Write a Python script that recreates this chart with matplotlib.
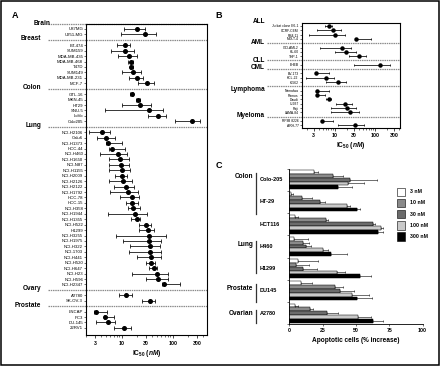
import matplotlib
matplotlib.use('Agg')
import matplotlib.pyplot as plt
from matplotlib.transforms import blended_transform_factory as btf
from matplotlib.patches import Rectangle
from matplotlib.ticker import NullFormatter, LogLocator
import numpy as np

plt.rcParams['font.family'] = ['Liberation Sans', 'DejaVu Sans']
plt.rcParams['mathtext.fontset'] = 'custom'
plt.rcParams['mathtext.rm'] = 'Liberation Sans:bold'
plt.rcParams['mathtext.bf'] = 'Liberation Sans:bold'
plt.rcParams['mathtext.it'] = 'Liberation Sans:bold:italic'

# ---------------- Panel A data (IC50, nM) ----------------
brain_lines = ['U87MG', 'U251-MG']
brain_ic50 = [20, 29]
brain_lo = [11.1, 9.5]
brain_hi = [29, 47.6]

breast_lines = ['BT-474', 'SUM159', 'MDA-MB-435', 'MDA-MB-468', 'T47D', 'SUM149', 'MDA-MB-231', 'MCF-7']
breast_ic50 = [11.4, 11.4, 14.1, 15.5, 15.5, 16.9, 20, 31.8]
breast_lo = [8.2, 6.2, 8.6, 13.1, 14.5, 10, 13.7, 20.9]
breast_hi = [14.7, 17.4, 19.7, 16.9, 16.5, 24.2, 25.8, 43.5]

colon_lines = ['GTL-16', 'MKN-45', 'HT29', 'SNU-5', 'LoVo', 'Colo205']
colon_ic50 = [15.8, 20.6, 23.1, 34.7, 52.2, 239]
colon_lo = [14.8, 18.8, 10.1, 4.8, 32.3, 111]
colon_hi = [16.8, 22.6, 37, 63.6, 74, 348]

lung_lines = ['NCI-H2106', 'Calu6', 'NCI-H1373', 'HCC-44', 'NCI-H460', 'NCI-H1650', 'NCI-N87',
              'NCI-H1155', 'NCI-H2009', 'NCI-H2126', 'NCI-H2122', 'NCI-H1792', 'HCC-78', 'HCC-15',
              'NCI-H358', 'NCI-H1944', 'NCI-H1355', 'NCI-H522', 'H1299', 'NCI-H3255', 'NCI-H1975',
              'NCI-H322', 'NCI-1703', 'NCI-H441', 'NCI-H520', 'NCI-H647', 'NCI-H23', 'NCI-H596',
              'NCI-H2347']
lung_ic50 = [4.05, 4.86, 5.46, 6.6, 8.4, 9.4, 9.7, 10.0, 10.0, 10.8, 12.2, 13.1, 15.8, 16.2,
             16.9, 18.5, 20, 29.5, 32.3, 33.9, 34.7, 36.4, 36.4, 37.6, 37.6, 42.4, 48.5, 52.2, 67.5]
lung_lo = [2.29, 3.23, 5.0, 5.7, 3.8, 5.6, 5.6, 5.6, 7.5, 5.6, 7.0, 5.9, 9.4, 12.2,
           13.1, 5.5, 15, 21.5, 22.2, 7.7, 10.8, 14.7, 14.1, 20, 30.4, 33.9, 15.8, 30, 61]
lung_hi = [6.0, 7.5, 10.1, 11.4, 12.9, 13.9, 14.1, 14.4, 12.9, 15.9, 17.7, 20.6, 21.5, 20.6,
           23, 30.9, 23, 37.6, 43.5, 74, 58, 57, 59.9, 59.9, 46, 49, 82, 81, 141]

ovary_lines = ['A2780', 'SK-OV-3']
ovary_ic50 = [12.3, 35.8]
ovary_lo = [8.8, 24.6]
ovary_hi = [15.8, 46]

prostate_lines = ['LNCAP', 'PC3', 'DU-145', '22RV1']
prostate_ic50 = [3.1, 4.7, 5.3, 11.1]
prostate_lo = [2.9, 4.5, 3.2, 7.0]
prostate_hi = [5.2, 7.1, 7.5, 14.9]

A_groups = [
    ('Brain', brain_lines, brain_ic50, brain_lo, brain_hi),
    ('Breast', breast_lines, breast_ic50, breast_lo, breast_hi),
    ('Colon', colon_lines, colon_ic50, colon_lo, colon_hi),
    ('Lung', lung_lines, lung_ic50, lung_lo, lung_hi),
    ('Ovary', ovary_lines, ovary_ic50, ovary_lo, ovary_hi),
    ('Prostate', prostate_lines, prostate_ic50, prostate_lo, prostate_hi),
]

# ---------------- Panel B data (IC50, nM) ----------------
all_lines = ['Jurkat clone E6-1', 'CCRF-CEM', 'RS4;11', 'MOLT-4']
all_ic50 = [7.2, 9.2, 10.4, 33.9]
all_lo = [5.8, 3.7, 2.25, 31.5]
all_hi = [8.6, 14.6, 18.4, 78.6]

aml_lines = ['OCI-AML2', 'HL-60', 'THP-1']
aml_ic50 = [15.2, 19.1, 40.2]
aml_lo = [4.3, 10.4, 22.3]
aml_hi = [25.9, 33.9, 59]

cll_lines = ['EHEB']
cll_ic50 = [134]
cll_lo = [29.7]
cll_hi = [238]

cml_lines = ['BV-173', 'KCL-22', 'K-562']
cml_ic50 = [3.5, 6.0, 12.3]
cml_lo = [3.3, 1.97, 6.0]
cml_hi = [7.1, 9.6, 18.8]

lymph_lines = ['Namalwa', 'Ramos', 'Daudi', 'U-937', 'Raji', 'LAMA-84']
lymph_ic50 = [3.6, 3.6, 7.1, 18.4, 20.6, 24]
lymph_lo = [3.4, 3.4, 6.2, 10.6, 7.9, 8.1]
lymph_hi = [7.1, 5.6, 8.1, 26.4, 33.9, 40.2]

myeloma_lines = ['RPMI 8226', 'ARH-77']
myeloma_ic50 = [4.9, 32.5]
myeloma_lo = [4.7, 12.3]
myeloma_hi = [9.0, 52.6]

B_groups = [
    ('ALL', all_lines, all_ic50, all_lo, all_hi),
    ('AML', aml_lines, aml_ic50, aml_lo, aml_hi),
    ('CLL', cll_lines, cll_ic50, cll_lo, cll_hi),
    ('CML', cml_lines, cml_ic50, cml_lo, cml_hi),
    ('Lymphoma', lymph_lines, lymph_ic50, lymph_lo, lymph_hi),
    ('Myeloma', myeloma_lines, myeloma_ic50, myeloma_lo, myeloma_hi),
]

ic_ticks = [3, 10, 30, 100, 300]
ic_ticklabels = ['3', '10', '30', '100', '300']

# ---------------- Panel C data (% apoptotic cells increase) ----------------
c_lines = ['Colo-205', 'HT-29', 'HCT116', 'H460', 'H1299', 'DU145', 'A2780']
c_tissues = ['Colon', 'Lung', 'Prostate', 'Ovarian']
c_conc = ['3 nM', '10 nM', '30 nM', '100 nM', '300 nM']
apo_3 = [18.75, 1.0, 4.5, 3.75, 6.25, 8.75, 4.25]
err_3 = [3, 1.5, 1.75, 10.5, 15, 8, 2]
apo_10 = [32.5, 9.25, 27.5, 10, 5, 34.25, 15.5]
err_10 = [8, 8, 1.25, 5, 9.5, 5.75, 2.5]
apo_30 = [45.75, 23, 63, 12.5, 10.5, 38, 28]
err_30 = [20, 3.75, 1.5, 3.75, 10, 10.75, 8.25]
apo_100 = [43.75, 43, 68.75, 25.5, 35.5, 47, 51.25]
err_100 = [12.5, 2.5, 1.5, 3.25, 6.25, 12.5, 10]
apo_300 = [36.25, 50.75, 66.25, 31.25, 53, 50.5, 63]
err_300 = [10.5, 2.25, 3.75, 11.75, 8.25, 11.5, 7.5]
c_ticks = [0, 25, 50, 75, 100]

# ---------------- layout ----------------
W, H = 440, 366
fig = plt.figure(figsize=(W / 100, H / 100), dpi=100)


def rect(l, t, r, b):
    return [l / W, 1 - b / H, (r - l) / W, (b - t) / H]


def forest(ax, groups, ms, cap, lab_fs, sep_x, grp_x, grp_dy, grp_xs=None, top_sep=True):
    ys, names, v, lo, hi, seps = [], [], [], [], [], []
    pos = 0
    for gi, (gname, lines, vals, lows, highs) in enumerate(groups):
        if gi > 0:
            pos += 1
        seps.append((gname, pos - 1))
        for n, a, l, h in zip(lines, vals, lows, highs):
            ys.append(pos); names.append(n); v.append(a); lo.append(l); hi.append(h)
            pos += 1
    v = np.array(v); lo = np.array(lo); hi = np.array(hi)
    ax.errorbar(v, ys, xerr=[v - lo, hi - v], fmt='o', color='black', ms=ms,
                elinewidth=0.55, capsize=cap, capthick=0.55, zorder=3)
    ax.set_xscale('log')
    ax.set_yticks(ys)
    ax.set_yticklabels(names, fontsize=lab_fs)
    ax.tick_params(axis='y', length=1.3, width=0.4, pad=0.8)
    tr = btf(ax.transAxes, ax.transData)
    for i, (gname, sy) in enumerate(seps):
        if i > 0 or top_sep:
            ax.plot([sep_x, 1], [sy, sy], transform=tr, clip_on=False, color='#8c8c8c',
                    lw=0.9, ls=(0, (1.2, 0.6)), zorder=1)
        gx = grp_x if grp_xs is None or gname not in grp_xs else grp_xs[gname]
        dy = grp_dy.get(gname, -0.2)
        ax.text(gx, sy + dy, gname, transform=tr, ha='right', va='center',
                fontsize=4.7, fontweight='bold')
    return pos


def style_log_x(ax, xlim):
    ax.set_xlim(*xlim)
    ax.set_xticks(ic_ticks)
    ax.set_xticklabels(ic_ticklabels, fontsize=3.8, fontweight='bold')
    ax.xaxis.set_minor_locator(LogLocator(base=10, subs=np.arange(2, 10)))
    ax.xaxis.set_minor_formatter(NullFormatter())
    ax.tick_params(axis='x', which='major', length=2, width=0.5, pad=2)
    ax.tick_params(axis='x', which='minor', length=1.2, width=0.4)
    for s in ax.spines.values():
        s.set_linewidth(0.8)
    ax.set_xlabel(r'IC$_{50}$ $\mathit{(nM)}$', fontsize=4.8, fontweight='bold', labelpad=1.5)


# Panel A
axA = fig.add_axes(rect(86, 23.5, 207, 335))
lastA = forest(axA, A_groups, ms=2.6, cap=1.2, lab_fs=3.1, sep_x=(48 - 86) / 121,
               grp_x=(41 - 86) / 121, grp_dy={'Brain': 0.0},
               grp_xs={'Brain': (50 - 86) / 121})
axA.set_ylim(lastA + 0.3, -1)
style_log_x(axA, (2, 470))

# Panel B
axB = fig.add_axes(rect(301.5, 23.3, 400, 127.7))
lastB = forest(axB, B_groups, ms=2.2, cap=1.0, lab_fs=2.4, sep_x=(267 - 301.5) / 98.5,
               grp_x=(265 - 301.5) / 98.5,
               grp_dy={'ALL': 0.0, 'AML': -0.1, 'CLL': 0.1, 'CML': -0.3,
                       'Lymphoma': 0.6, 'Myeloma': -0.2},
               top_sep=False)
axB.set_ylim(lastB - 0.45, -0.6)
style_log_x(axB, (1.5, 420))

# Panel C
axC = fig.add_axes(rect(289.3, 168.5, 422.6, 324.3))
c_vals = [apo_3, apo_10, apo_30, apo_100, apo_300]
c_errs = [err_3, err_10, err_30, err_100, err_300]
c_colors = ['white', '#8a8a8a', '#6b6b6b', '#c9c9c9', 'black']
bh = 0.17
idx = np.arange(len(c_lines))
for k, (vals, errs, col) in enumerate(zip(c_vals, c_errs, c_colors)):
    axC.barh(idx + (k - 2) * bh, vals, height=bh, color=col, edgecolor='black', linewidth=0.35,
             xerr=[np.zeros(len(vals)), errs],
             error_kw=dict(elinewidth=0.4, capsize=1.0, capthick=0.4, ecolor='black'))
axC.set_xlim(0, 100)
axC.set_ylim(6.5, -0.5)
axC.spines['top'].set_visible(False)
axC.spines['right'].set_visible(False)
for s in ('left', 'bottom'):
    axC.spines[s].set_linewidth(0.6)
axC.set_yticks(np.arange(-0.5, len(c_lines), 1))
axC.set_yticklabels([])
axC.tick_params(axis='y', length=1.5, width=0.4)
axC.set_xticks(c_ticks)
axC.set_xticklabels([str(t) for t in c_ticks], fontsize=3.8, fontweight='bold')
axC.tick_params(axis='x', length=1.5, width=0.4, pad=1.5)
axC.set_xlabel('Apoptotic cells (% increase)', fontsize=4.7, fontweight='bold', labelpad=2.5)
trC = btf(axC.transAxes, axC.transData)
for i, name in enumerate(c_lines):
    axC.text(-0.22, i, name, transform=trC, ha='left', va='center', fontsize=4, fontweight='bold')
c_spans = [(-0.31, 1.54), (2.75, 4.19), (4.7, 5.48), (5.84, 6.45)]
for tname, (y0, y1) in zip(c_tissues, c_spans):
    axC.plot([-0.25, -0.25], [y0, y1], transform=trC, clip_on=False, color='#333333', lw=0.9)
    axC.text(-0.27, y0 + 0.17, tname, transform=trC, ha='right', va='center',
             fontsize=4.7, fontweight='bold')

# Overlay in pixel coordinates: legend, panel letters, border
ax0 = fig.add_axes([0, 0, 1, 1])
ax0.set_xlim(0, W)
ax0.set_ylim(H, 0)
ax0.axis('off')
ax0.patch.set_visible(False)
leg_y = [191.7, 202.9, 214.1, 225.3, 236.5]
for lab, col, yc in zip(c_conc, c_colors, leg_y):
    ax0.add_patch(Rectangle((397, yc - 4.2), 8.3, 8.4, facecolor=col, edgecolor='black', lw=0.4))
    ax0.text(409.5, yc, lab, ha='left', va='center', fontsize=3.8, fontweight='bold')
for letter, x, y in [('A', 15.5, 15.5), ('B', 219, 15.5), ('C', 219, 165)]:
    ax0.text(x, y, letter, ha='center', va='center', fontsize=6.5, fontweight='bold')
ax0.add_patch(Rectangle((0.6, 0.6), W - 1.2, H - 1.2, fill=False, edgecolor='black', lw=1.1))

fig.savefig('out.png', dpi=100)
